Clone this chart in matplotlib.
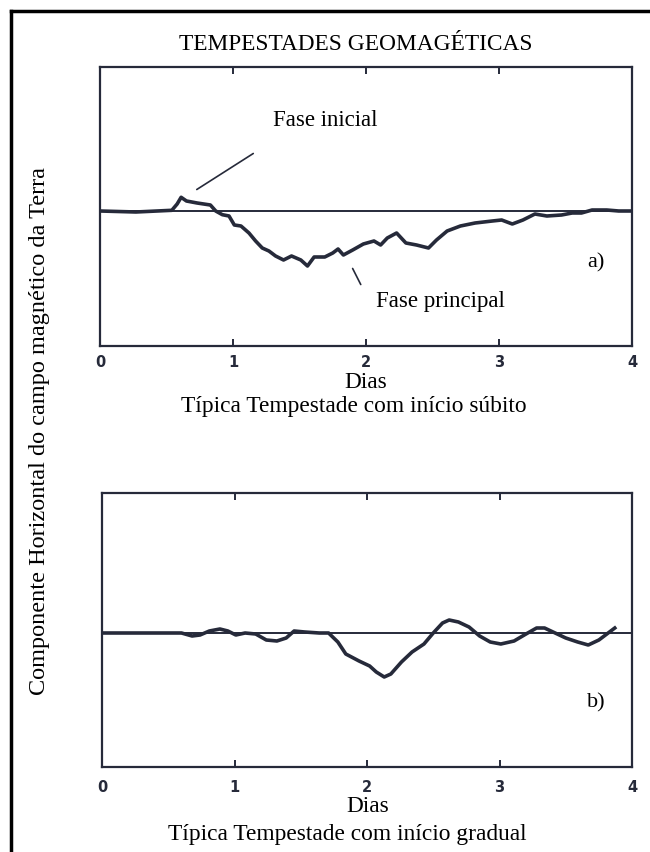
import numpy as np
import matplotlib.pyplot as plt
from matplotlib.lines import Line2D
from matplotlib.transforms import offset_copy

# panel a) - sudden commencement storm (days, relative H)
dias_a = [0.0, 0.27, 0.54, 0.58, 0.61, 0.65, 0.73, 0.83, 0.87, 0.92, 0.97, 1.01, 1.06,
          1.12, 1.17, 1.22, 1.27, 1.32, 1.38, 1.44, 1.51, 1.56, 1.61, 1.69, 1.75,
          1.79, 1.83, 1.90, 1.98, 2.06, 2.11, 2.16, 2.23, 2.30, 2.38, 2.47, 2.53,
          2.61, 2.71, 2.82, 2.95, 3.02, 3.10, 3.18, 3.27, 3.36, 3.47, 3.55, 3.62,
          3.70, 3.81, 3.90, 4.0]
h_a = [0, -1, 0.7, 7, 13.7, 10, 8, 6, 0, -3.7, -5, -14, -15,
       -22, -30, -37, -40, -45, -49, -45, -49, -55, -46, -46, -42,
       -38, -44, -39, -33, -30, -34, -27, -22, -32, -34, -37, -29,
       -20, -15, -12, -10, -9, -13, -9, -3, -5, -4, -2, -2,
       1, 1, 0, 0]

# panel b) - gradual commencement storm
dias_b = [0.0, 0.60, 0.68, 0.74, 0.81, 0.89, 0.95, 1.01, 1.08, 1.16, 1.24, 1.32, 1.39,
          1.45, 1.53, 1.64, 1.71, 1.78, 1.84, 1.94, 2.02, 2.07, 2.13, 2.18, 2.26,
          2.34, 2.43, 2.50, 2.57, 2.62, 2.69, 2.77, 2.85, 2.93, 3.01, 3.11, 3.20,
          3.28, 3.34, 3.42, 3.50, 3.59, 3.67, 3.75, 3.82, 3.87]
h_b = [0, 0, -3, -2, 2, 4, 2, -2, 0, -1, -7, -8, -5,
       2, 1, 0, 0, -9, -21, -28, -33, -39, -44, -41, -29,
       -19, -11, 0, 10, 13, 11, 6, -3, -9, -11, -8, -1,
       5, 5, 0, -5, -9, -12, -7, 0, 5]

ticks = [0, 1, 2, 3, 4]
tick_labels = ['0', '1', '2', '3', '4']

W, H = 650, 853
INK = '#262a3a'
SERIF = ['Liberation Serif', 'DejaVu Serif']


def px_axes(fig, x0, y0, x1, y1):
    return fig.add_axes([x0 / W, 1 - y1 / H, (x1 - x0) / W, (y1 - y0) / H])


def Plot_Panel(fig, ax, dias, h, ylim, tag, tag_y, lab_off):
    ax.plot([0, 4], [0, 0], color=INK, lw=1.4, solid_capstyle='butt')
    ax.plot(dias, h, color=INK, lw=2.6, solid_joinstyle='round')
    ax.set_xlim(0, 4)
    ax.set_ylim(*ylim)
    ax.set_yticks([])
    ax.set_xticks(ticks[1:-1])
    ax.set_xticklabels([])
    ax.tick_params(axis='x', direction='in', length=5, width=1.4, color=INK,
                   top=True, bottom=True)
    for s in ax.spines.values():
        s.set_color(INK)
        s.set_linewidth(1.6)
    ax.text(3.73, tag_y, tag, fontsize=16, family=SERIF, ha='center', va='center')
    # bold digit labels below the axis (offset in pixels)
    trans = offset_copy(ax.get_xaxis_transform(), fig=fig, y=-lab_off, units='dots')
    for t, lab in zip(ticks, tick_labels):
        ax.text(t, 0, lab, transform=trans, ha='center', va='center', fontsize=10.5,
                fontweight='bold', color=INK, family='DejaVu Sans')


def Main():
    fig = plt.figure(figsize=(W / 100, H / 100), dpi=100)

    # outer frame (top and left edges visible)
    fig.add_artist(Line2D([11 / W, 1], [1 - 12 / H, 1 - 12 / H], color='black', lw=2.5))
    fig.add_artist(Line2D([11 / W, 11 / W], [0, 1 - 12 / H], color='black', lw=2.5))

    fig.text(356 / W, 1 - 45 / H, 'TEMPESTADES GEOMAGÉTICAS', ha='center', va='center',
             fontsize=16.8, family=SERIF)
    fig.text(40 / W, 1 - 431 / H, 'Componente Horizontal do campo magnético da Terra',
             rotation=90, ha='center', va='center', fontsize=17.5, family=SERIF)

    # a) sudden commencement
    ax_a = px_axes(fig, 100, 68, 632, 347)
    Plot_Panel(fig, ax_a, dias_a, h_a, (-135, 144), 'a)', -51, 16)
    ax_a.text(1.69, 92, 'Fase inicial', fontsize=16.5, family=SERIF, ha='center', va='center')
    ax_a.annotate('', xy=(0.71, 20), xytext=(1.17, 59),
                  arrowprops=dict(arrowstyle='-', color=INK, lw=1.2))
    ax_a.text(2.56, -90, 'Fase principal', fontsize=16.5, family=SERIF, ha='center', va='center')
    ax_a.annotate('', xy=(1.89, -55), xytext=(1.97, -76),
                  arrowprops=dict(arrowstyle='-', color=INK, lw=1.2))
    fig.text(366 / W, 1 - 383 / H, 'Dias', ha='center', va='center', fontsize=16.8, family=SERIF)
    fig.text(354 / W, 1 - 407 / H, 'Típica Tempestade com início súbito', ha='center',
             va='center', fontsize=16.8, family=SERIF)

    # b) gradual commencement
    ax_b = px_axes(fig, 102, 494, 632, 768)
    Plot_Panel(fig, ax_b, dias_b, h_b, (-134, 140), 'b)', -69, 20)
    fig.text(368 / W, 1 - 807 / H, 'Dias', ha='center', va='center', fontsize=16.8, family=SERIF)
    fig.text(347 / W, 1 - 835 / H, 'Típica Tempestade com início gradual', ha='center',
             va='center', fontsize=16.8, family=SERIF)

    plt.savefig('out.png', dpi=100)
    plt.close()


if __name__ == '__main__':
    Main()
